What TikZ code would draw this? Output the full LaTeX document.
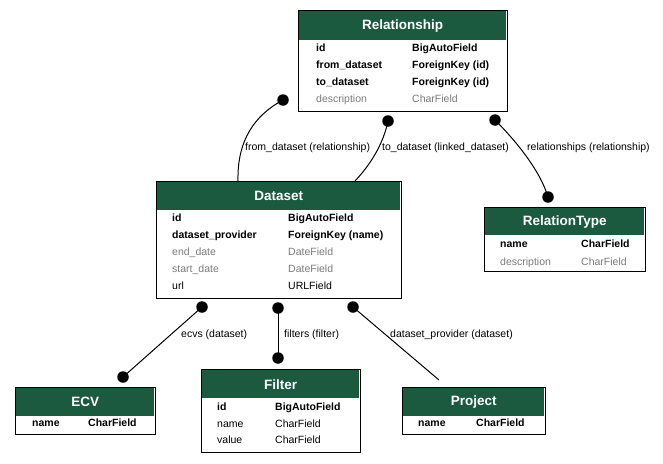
\documentclass[tikz,border=0pt]{standalone}
\usepackage{fontspec}
\setmainfont{Liberation Sans}
\usetikzlibrary{positioning,calc}
\definecolor{hdrgreen}{HTML}{1C5A40}
\definecolor{optgray}{HTML}{7B7B7B}
\tikzset{
 tbl/.style={draw,line width=1.1pt,fill=white,inner sep=0,anchor=north west},
 hdr/.style={fill=hdrgreen,text=white,font=\fontsize{13.5}{15}\selectfont\bfseries,inner sep=0,anchor=north west},
 fld/.style={font=\fontsize{10.5}{12}\selectfont,inner sep=0,anchor=base west},
 pk/.style={fld,font=\fontsize{10.5}{12}\selectfont\bfseries},
 opt/.style={fld,text=optgray},
 pin/.style={circle,fill=black,inner sep=0,minimum size=11.5pt},
 link/.style={line width=1pt}
}
\begin{document}
\begin{tikzpicture}[x=1pt,y=-1pt]
\useasboundingbox (0,0) rectangle (663,463);
% Relationship
\node[tbl,minimum width=209pt,minimum height=101pt] (rel) at (298,10) {};
\node[hdr,minimum width=207pt,minimum height=29pt] (relH) at (299,11) {Relationship};
\node[pk] (relA) at (316,51) {id};\node[pk] (relAt) at (412,51) {BigAutoField};
\node[pk] (relB) at (316,68) {from\_dataset};\node[pk] (relBt) at (412,68) {ForeignKey (id)};
\node[pk] (relC) at (316,85) {to\_dataset};\node[pk] (relCt) at (412,85) {ForeignKey (id)};
\node[opt] (relD) at (316,102) {description};\node[opt] (relDt) at (412,102) {CharField};
% Dataset
\node[tbl,minimum width=245pt,minimum height=117pt] (ds) at (156,181) {};
\node[hdr,minimum width=243pt,minimum height=28pt] (dsH) at (157,182) {Dataset};
\node[pk] (dsA) at (172,221) {id};\node[pk] (dsAt) at (288,221) {BigAutoField};
\node[pk] (dsB) at (172,238) {dataset\_provider};\node[pk] (dsBt) at (288,238) {ForeignKey (name)};
\node[opt] (dsC) at (172,255) {end\_date};\node[opt] (dsCt) at (288,255) {DateField};
\node[opt] (dsD) at (172,272) {start\_date};\node[opt] (dsDt) at (288,272) {DateField};
\node[fld] (dsE) at (172,289) {url};\node[fld] (dsEt) at (288,289) {URLField};
% RelationType
\node[tbl,minimum width=161pt,minimum height=64pt] (rt) at (484,207) {};
\node[hdr,minimum width=159pt,minimum height=27pt] (rtH) at (485,208) {RelationType};
\node[pk] (rtA) at (500,247) {name};\node[pk] (rtAt) at (581,247) {CharField};
\node[opt] (rtB) at (500,265) {description};\node[opt] (rtBt) at (581,265) {CharField};
% ECV
\node[tbl,minimum width=140pt,minimum height=47pt] (ecv) at (15,387) {};
\node[hdr,minimum width=138pt,minimum height=28pt] (ecvH) at (16,388) {ECV};
\node[pk] (ecvA) at (32,426) {name};\node[pk] (ecvAt) at (88,426) {CharField};
% Filter
\node[tbl,minimum width=159pt,minimum height=83pt] (flt) at (201,369) {};
\node[hdr,minimum width=157pt,minimum height=28pt] (fltH) at (202,370) {Filter};
\node[pk] (fltA) at (217,410) {id};\node[pk] (fltAt) at (275,410) {BigAutoField};
\node[fld] (fltB) at (217,427) {name};\node[fld] (fltBt) at (275,427) {CharField};
\node[fld] (fltC) at (217,443) {value};\node[fld] (fltCt) at (275,443) {CharField};
% Project
\node[tbl,minimum width=143pt,minimum height=47pt] (prj) at (402,387) {};
\node[hdr,minimum width=141pt,minimum height=28pt] (prjH) at (403,388) {Project};
\node[pk] (prjA) at (418,426) {name};\node[pk] (prjAt) at (476,426) {CharField};
% links
\node[pin] (p1) at (283,100) {};\node[pin] (p2) at (388,121) {};\node[pin] (p3) at (495,120) {};\node[pin] (p4) at (548,197) {};
\node[pin] (p5) at (202,307) {};\node[pin] (p6) at (123,377) {};\node[pin] (p7) at (278,308) {};\node[pin] (p8) at (278,358) {};
\node[pin] (p9) at (353,307) {};
\coordinate (q1) at ($(ds.north west)+(82,0)$);\coordinate (q2) at ($(ds.north west)+(199,0)$);\coordinate (q9) at (439,380);
\draw[link] (p1.center) .. controls (255,115) and (237,140) .. (q1);
\draw[link] (p2.center) .. controls (383,145) and (370,165) .. (q2);
\draw[link] (p3.center) .. controls (515,140) and (540,170) .. (p4.center);
\draw[link] (p5.center)--(p6.center);\draw[link] (p7.center)--(p8.center);\draw[link] (p9.center)--(q9);
\node[fld] (l1) at (245,150) {from\_dataset (relationship)};\node[fld] (l2) at (382,150) {to\_dataset (linked\_dataset)};
\node[fld] (l3) at (527,150) {relationships (relationship)};
\node[fld] (l5) at (181,337) {ecvs (dataset)};\node[fld] (l7) at (284,337) {filters (filter)};\node[fld] (l9) at (390,337) {dataset\_provider (dataset)};
\end{tikzpicture}
\end{document}
